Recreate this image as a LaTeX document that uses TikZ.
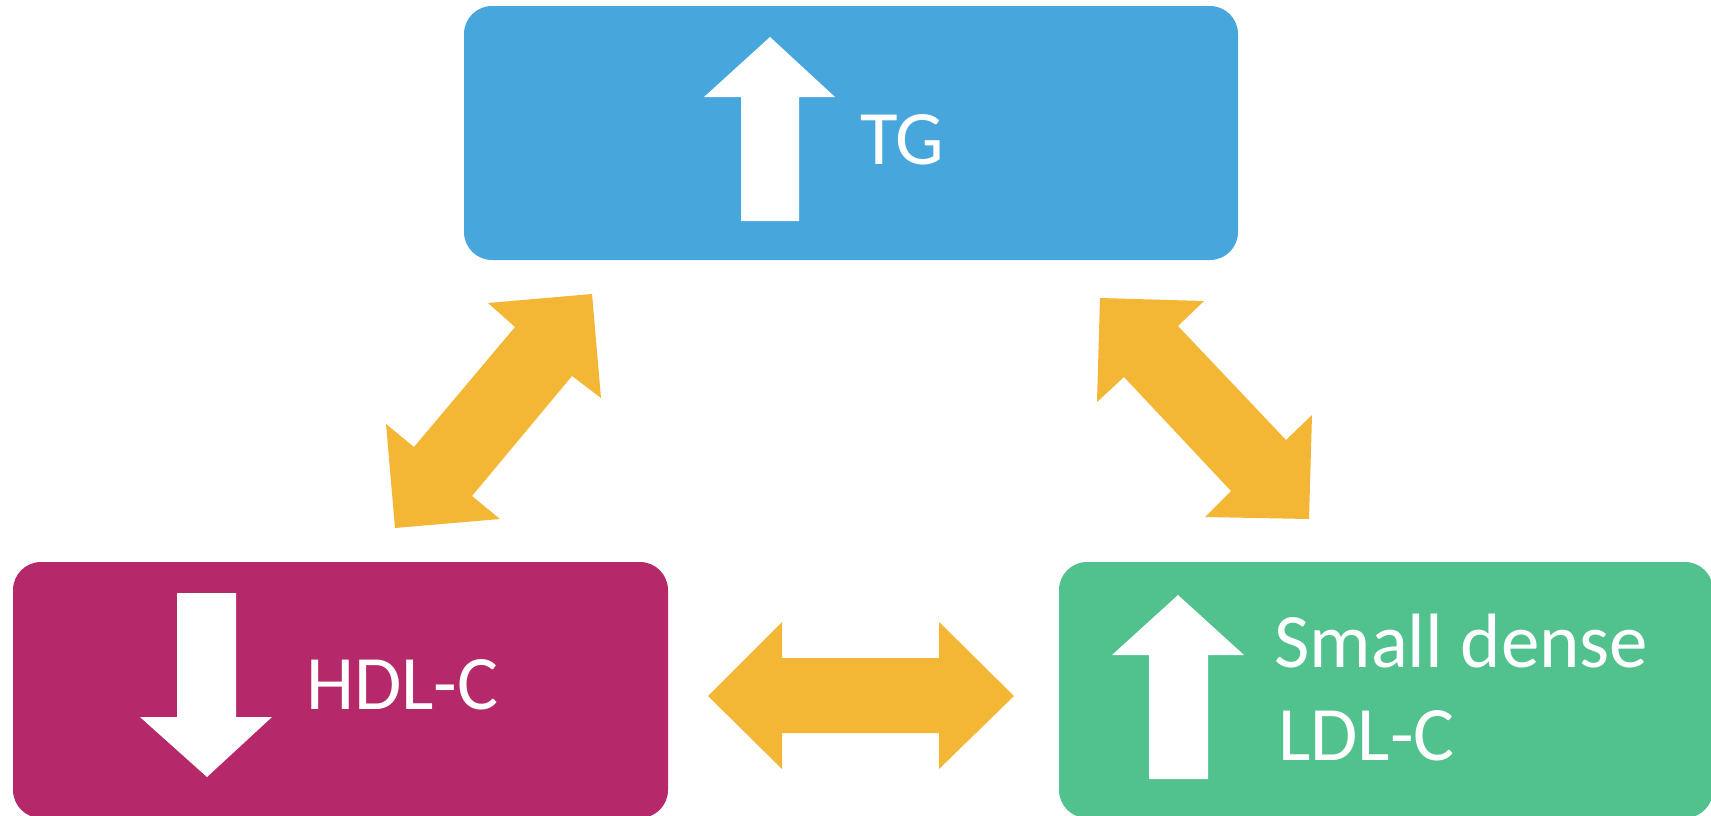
\documentclass[tikz,border=0pt]{standalone}
\usepackage{fontspec}
\setmainfont{Carlito}
\definecolor{tgblue}{HTML}{47A7DD}
\definecolor{hdlmag}{HTML}{B5296A}
\definecolor{ldlgreen}{HTML}{51C18D}
\definecolor{arrorange}{HTML}{F4B635}
\begin{document}
\begin{tikzpicture}[x=1pt,y=-1pt,
  panel/.style={rounded corners=28pt,inner sep=0pt,outer sep=0pt,draw=none},
  lbl/.style={text=white,font=\fontsize{77}{93}\selectfont,inner sep=0pt,anchor=base west},
  whitearrow/.style={fill=white,draw=none},
  bigarrow/.style={fill=arrorange,draw=none}]
\useasboundingbox (0,0) rectangle (1711,815);
% panels
\node[panel,fill=tgblue,minimum width=774pt,minimum height=254pt] (tg) at (851,133) {};
\node[panel,fill=hdlmag,minimum width=655pt,minimum height=256pt] (hdl) at (340.5,690) {};
\node[panel,fill=ldlgreen,minimum width=654pt,minimum height=256pt] (ldl) at (1386,690) {};
% white trend arrows
\fill[whitearrow] (770,37) -- (835,97) -- (799,97) -- (799,221) -- (741,221) -- (741,97) -- (704,97) -- cycle;
\fill[whitearrow] (177,593) -- (236,593) -- (236,717) -- (272,717) -- (207,777) -- (140,717) -- (177,717) -- cycle;
\fill[whitearrow] (1178,595) -- (1244,655) -- (1208,655) -- (1208,779) -- (1149,779) -- (1149,655) -- (1112,655) -- cycle;
% labels
\node[lbl] (tgl) at (860,164) {TG};
\node[lbl] (hdll) at (306,709) {HDL-C};
\node[lbl] (ldll1) at (1274,667) {Small dense};
\node[lbl] (ldll2) at (1278,760) {LDL-C};
% orange double arrows
\fill[bigarrow] (708,696) -- (782,622) -- (782,658) -- (939,658) -- (939,622) -- (1014,696) -- (939,769) -- (939,733) -- (782,733) -- (782,769) -- cycle;
\fill[bigarrow] (592,294) -- (601,398) -- (572,376) -- (472,496) -- (500,519) -- (395,528) -- (386,424) -- (414,447) -- (515,327) -- (488,303) -- cycle;
\fill[bigarrow] (1100,298) -- (1204,301) -- (1178,326) -- (1286,440) -- (1312,415) -- (1309,519) -- (1205,517) -- (1231,491) -- (1124,377) -- (1097,402) -- cycle;
\end{tikzpicture}
\end{document}
